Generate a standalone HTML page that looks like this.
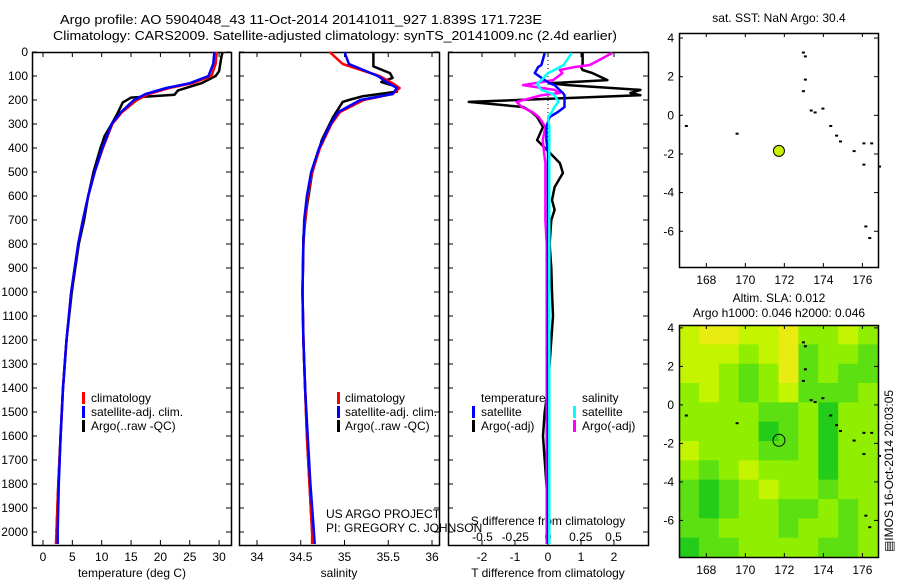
<!DOCTYPE html>
<html><head><meta charset="utf-8">
<style>
html,body{margin:0;padding:0;background:#fff;}
svg{display:block;font-family:"Liberation Sans",sans-serif;}
text{font-size:12px;fill:#000;}
</style></head>
<body>
<svg id="chart" width="900" height="580" viewBox="0 0 900 580">
<text x="60" y="24" textLength="482" lengthAdjust="spacingAndGlyphs" style="font-size:13px">Argo profile: AO 5904048_43 11-Oct-2014 20141011_927 1.839S 171.723E</text>
<text x="53" y="40" textLength="564" lengthAdjust="spacingAndGlyphs" style="font-size:13px">Climatology: CARS2009. Satellite-adjusted climatology: synTS_20141009.nc (2.4d earlier)</text>
<g id="g"></g>
</svg>
<script>
// ---------- data ----------
const depthTicks=[0,100,200,300,400,500,600,700,800,900,1000,1100,1200,1300,1400,1500,1600,1700,1800,1900,2000];
const tempTicks=[0,5,10,15,20,25,30];
const salTicks=[34,34.5,35,35.5,36];
const tdiffTicks=[-2,-1,0,1,2];
const sdiffTicks=[-0.5,-0.25,0,0.25,0.5];
const lonTicks=[168,170,172,174,176];
const latTicks=[4,2,0,-2,-4,-6];

const climDepth=[0,50,100,130,150,175,200,250,300,400,500,600,700,800,1000,1200,1400,1600,1800,2000,2050];
const climTemp=[29.6,29.4,28.7,25.5,21.5,18,16,13.5,11.8,10.2,8.8,7.7,6.8,6.0,4.8,4.0,3.4,3.0,2.6,2.3,2.2];
const satTemp=[29.2,29.0,28.2,25.0,21.0,17.5,15.5,13.3,11.7,10.1,8.8,7.7,6.8,6.0,4.8,4.0,3.4,3.0,2.7,2.5,2.5];
const argoDepth=[0,20,80,100,130,160,178,190,210,260,300,350,400,500,600,700,800,1000,1200,1400,1600,1800,2000];
const argoTemp=[30.6,30.4,30.0,29.4,27,23,22.4,15,13.6,12.6,11.7,10.5,9.8,8.6,7.7,7.0,6.1,4.9,4.0,3.4,3.0,2.6,2.3];

const climSal=[34.83,34.98,35.4,35.55,35.63,35.55,35.22,34.95,34.85,34.72,34.63,34.58,34.55,34.53,34.52,34.53,34.55,34.57,34.6,34.63,34.63];
const satSal=[35.0,35.05,35.38,35.5,35.6,35.55,35.18,34.93,34.84,34.71,34.62,34.57,34.54,34.53,34.52,34.53,34.55,34.58,34.61,34.65,34.66];
const argoSalDepth=[0,60,88,108,125,145,165,185,200,208,271,367,504,643,770,1000,1200,1400,1600,1800,2000];
const argoSal=[35.33,35.33,35.52,35.55,35.42,35.6,35.6,35.2,35.05,34.98,34.87,34.74,34.63,34.57,34.53,34.52,34.53,34.55,34.57,34.6,34.63];

const dDepth=[4,54,63,75,88,117,130,138,158,171,180,208,229,250,271,312,367,421,463,504,563,617,658,700,800,900,1000,1100,1200,1300,1400,1500,1600,1700,1800,1900,2050];
const dTargo=[1.05,1.05,1.0,1.05,1.35,1.8,0.05,0.6,2.8,2.5,2.8,-2.4,-0.75,-0.5,-0.33,-0.15,-0.33,0.06,0.36,0.45,0.2,0.12,0.2,0.1,0.05,0.1,0.12,0.15,0.1,0.05,0,-0.1,-0.15,-0.1,-0.05,0,0];
const dTsat=[-0.1,-0.2,-0.3,-0.35,-0.4,-0.1,0.05,0.2,0.35,0.45,0.5,0.5,0.5,0.3,0.05,-0.05,-0.05,0,0,0,0,0,0,0,0,0,0,0,0,0,0,0,0,0,0,0,0];
const dSsat=[0.18,0.12,0.09,0.05,0.0,-0.05,-0.08,-0.08,-0.05,0.02,0.05,0.08,0.05,0.03,0.0,0.01,0.01,0.01,0.01,0.01,0.01,0.01,0.01,0.01,0.01,0.01,0.01,0.01,0.01,0.01,0.01,0.01,0.01,0.01,0.01,0.01,0.01];
const dSargo=[0.49,0.32,0.2,0.09,0.11,0.04,-0.1,-0.19,0.05,0.09,-0.05,-0.24,-0.2,-0.12,-0.07,-0.02,-0.04,-0.03,-0.02,-0.02,-0.02,-0.02,-0.02,-0.02,-0.01,-0.01,-0.01,-0.01,-0.01,-0.01,-0.01,-0.01,-0.01,-0.01,-0.01,-0.01,-0.01];

const profLon=[171.723], profLat=[-1.839];
// SLA category grid (rows north->south, 0=dark green..4=yellow)
const slaGrid=[
[3,4,4,3,3,4,2,2,3,2],
[3,3,3,2,3,4,1,2,2,1],
[3,3,2,1,2,4,1,2,1,1],
[2,3,2,1,2,3,1,1,1,2],
[2,2,2,2,1,1,2,0,2,2],
[2,2,2,2,0,1,2,0,2,2],
[3,2,2,2,1,1,2,0,2,2],
[2,1,2,3,2,2,2,0,2,2],
[1,0,1,2,3,2,2,1,2,2],
[1,0,1,2,2,1,1,2,1,2],
[1,1,2,2,2,1,2,2,1,2],
[0,1,1,2,2,2,2,1,1,2]];
const slaColors=["#22cc18","#5ce012","#90ee00","#c4f400","#e8ec10"];
const coastLon=[172.9,173.0,173.0,172.9,173.3,173.5,173.9,174.3,174.6,174.8,175.5,176.0,176.4,176.0,176.8,176.1,176.3,166.9,169.5];
const coastLat=[3.3,3.1,1.9,1.3,0.3,0.2,0.4,-0.5,-1.0,-1.3,-1.8,-1.4,-1.4,-2.5,-2.6,-5.7,-6.3,-0.5,-0.9];

// ---------- helpers ----------
const NS="http://www.w3.org/2000/svg";
const G=document.getElementById('g');
function mk(tag,attrs,parent){const e=document.createElementNS(NS,tag);for(const k in attrs)e.setAttribute(k,attrs[k]);(parent||G).appendChild(e);return e;}
const yD=d=>52+d*0.24;
const xT=t=>43+t*5.87;
const xS=s=>257+(s-34)*87.5;
const xDT=t=>548+t*33;
const xDS=s=>548+s*131;

function frame(x0,x1,y0,y1,name){
  const r=mk('rect',{x:x0+0.5,y:y0+0.5,width:x1-x0,height:y1-y0,fill:'none',stroke:'#000','stroke-width':1.5});
  
  
}
function line(xs,ys,color,name,w){
  const p=xs.map((x,i)=>(i?'L':'M')+x.toFixed(1)+' '+ys[i].toFixed(1)).join(' ');
  const e=mk('path',{d:p,fill:'none',stroke:color,'stroke-width':w||2.5,'stroke-linejoin':'round'});
  
  
}
function txt(x,y,s,anchor,name,extra){
  const t=mk('text',Object.assign({x:x,y:y,'text-anchor':anchor||'start'},extra||{}));
  t.textContent=s;
  
  
  return t;
}
function depthTicksOn(x0,x1,labels){
  depthTicks.forEach(d=>{
    const y=yD(d);
    mk('line',{x1:x0,x2:x0+5,y1:y,y2:y,stroke:'#000'});
    mk('line',{x1:x1-5,x2:x1,y1:y,y2:y,stroke:'#000'});
    if(labels){txt(28,y+4,String(d),'end','depth-tick-label');}
  });
}
function xTicks(vals,fx,y0,y1,labelY,name,fmt){
  vals.forEach(v=>{
    const x=fx(v);
    mk('line',{x1:x,x2:x,y1:y0,y2:y0+5,stroke:'#000'});
    mk('line',{x1:x,x2:x,y1:y1-5,y2:y1,stroke:'#000'});
    if(labelY)txt(x,labelY,fmt?fmt(v):String(v),'middle',name);
  });
}
function legendMark(x,y,color,name){
  const r=mk('rect',{x:x,y:y-6,width:3,height:12,fill:color});
  
  
}

// ---------- panel 1: temperature ----------
frame(32,231,52,545,'temperature-panel');
depthTicksOn(32,231,true);
xTicks(tempTicks,xT,52,545,561,'temperature-tick-label');
txt(132,577,'temperature (deg C)','middle','x-axis-title-temperature');
line(argoTemp.map(xT),argoDepth.map(yD),'#000','argo-temperature-line');
line(climTemp.map(xT),climDepth.map(yD),'#f00','climatology-temperature-line');
line(satTemp.map(xT),climDepth.map(yD),'#00f','satellite-temperature-line');
[['#f00','climatology'],['#00f','satellite-adj. clim.'],['#000','Argo(..raw -QC)']].forEach((e,i)=>{
  legendMark(82,398+i*14,e[0],'legend-marker');
  txt(91,402+i*14,e[1],'start','legend-entry');
});

// ---------- panel 2: salinity ----------
frame(239,439,52,545,'salinity-panel');
depthTicksOn(239,439,false);
xTicks(salTicks,xS,52,545,561,'salinity-tick-label');
txt(339,577,'salinity','middle','x-axis-title-salinity');
line(argoSal.map(xS),argoSalDepth.map(yD),'#000','argo-salinity-line');
line(climSal.map(xS),climDepth.map(yD),'#f00','climatology-salinity-line');
line(satSal.map(xS),climDepth.map(yD),'#00f','satellite-salinity-line');
[['#f00','climatology'],['#00f','satellite-adj. clim.'],['#000','Argo(..raw -QC)']].forEach((e,i)=>{
  legendMark(337,398+i*14,e[0],'legend-marker');
  txt(345,402+i*14,e[1],'start','legend-entry');
});
txt(326,518,'US ARGO PROJECT','start','project-credit');
txt(326,532,'PI: GREGORY C. JOHNSON','start','pi-credit');

// ---------- panel 3: differences ----------
frame(448,648,52,545,'difference-panel');
depthTicksOn(448,648,false);
xTicks(tdiffTicks,xDT,52,545,561,'tdiff-tick-label');
sdiffTicks.forEach(v=>txt(xDS(v),541,String(v),'middle','sdiff-tick-label'));
txt(548,525,'S difference from climatology','middle','sdiff-axis-title');
txt(548,577,'T difference from climatology','middle','tdiff-axis-title');
mk('line',{x1:548,x2:548,y1:52,y2:545,stroke:'#000','stroke-dasharray':'1 3'});
line(dTargo.map(xDT),dDepth.map(yD),'#000','argo-tdiff-line');
line(dSargo.map(xDS),dDepth.map(yD),'#f0f','argo-sdiff-line');
line(dTsat.map(xDT),dDepth.map(yD),'#00f','satellite-tdiff-line');
line(dSsat.map(xDS),dDepth.map(yD),'#0ff','satellite-sdiff-line');
txt(481,402,'temperature','start','legend-title-temperature');
txt(582,402,'salinity','start','legend-title-salinity');
legendMark(472,412,'#00f','legend-marker');txt(481,416,'satellite','start','legend-entry');
legendMark(472,426,'#000','legend-marker');txt(481,430,'Argo(-adj)','start','legend-entry');
legendMark(573,412,'#0ff','legend-marker');txt(582,416,'satellite','start','legend-entry');
legendMark(573,426,'#f0f','legend-marker');txt(582,430,'Argo(-adj)','start','legend-entry');

// ---------- maps ----------
function mapAx(top,bottom,latTop,latBot){
  const lx=lon=>679+(lon-166.6)*(199/10.2);
  const ly=lat=>top+(latTop-lat)*((bottom-top)/(latTop-latBot));
  return [lx,ly];
}
function drawMap(top,bottom,latTop,latBot,heat,name){
  const [lx,ly]=mapAx(top,bottom,latTop,latBot);
  if(heat){
    const rows=slaGrid.length, cols=slaGrid[0].length;
    const cw=199/cols, ch=(bottom-top)/rows;
    slaGrid.forEach((row,r)=>row.forEach((v,c)=>{
      const cell=mk('rect',{x:679+c*cw,y:top+r*ch,width:cw+0.6,height:ch+0.6,fill:slaColors[v]});
      
      
    }));
  }
  coastLon.forEach((lo,i)=>{
    const d=mk('rect',{x:lx(lo),y:ly(coastLat[i]),width:3,height:2,fill:'#000'});
    
    
  });
  frame(679,878,top,bottom,name);
  lonTicks.forEach(v=>{
    const x=lx(v);
    mk('line',{x1:x,x2:x,y1:top,y2:top+4,stroke:'#000'});
    mk('line',{x1:x,x2:x,y1:bottom-4,y2:bottom,stroke:'#000'});
    txt(x,bottom+17,String(v),'middle','longitude-tick-label');
  });
  latTicks.forEach(v=>{
    const y=ly(v);
    mk('line',{x1:679,x2:683,y1:y,y2:y,stroke:'#000'});
    mk('line',{x1:874,x2:878,y1:y,y2:y,stroke:'#000'});
    txt(674,y+4,String(v),'end','latitude-tick-label');
  });
  const c=mk('circle',{cx:lx(profLon[0]),cy:ly(profLat[0]),r:heat?6:5.5,fill:heat?'none':'#ccee00',stroke:'#000','stroke-width':1});
  
  
}
txt(779,22,'sat. SST: NaN Argo: 30.4','middle','sst-map-title');
drawMap(33,267,4.26,-7.85,false,'sst-map');
txt(779,302,'Altim. SLA: 0.012','middle','sla-map-title');
txt(779,317,'Argo h1000: 0.046 h2000: 0.046','middle','sla-map-subtitle');
drawMap(325,557,4.15,-7.9,true,'sla-map');
txt(0,0,'\u25A4IMOS 16-Oct-2014 20:03:05','middle','imos-timestamp',{transform:'translate(893,471) rotate(-90)'});
</script>
</body></html>
